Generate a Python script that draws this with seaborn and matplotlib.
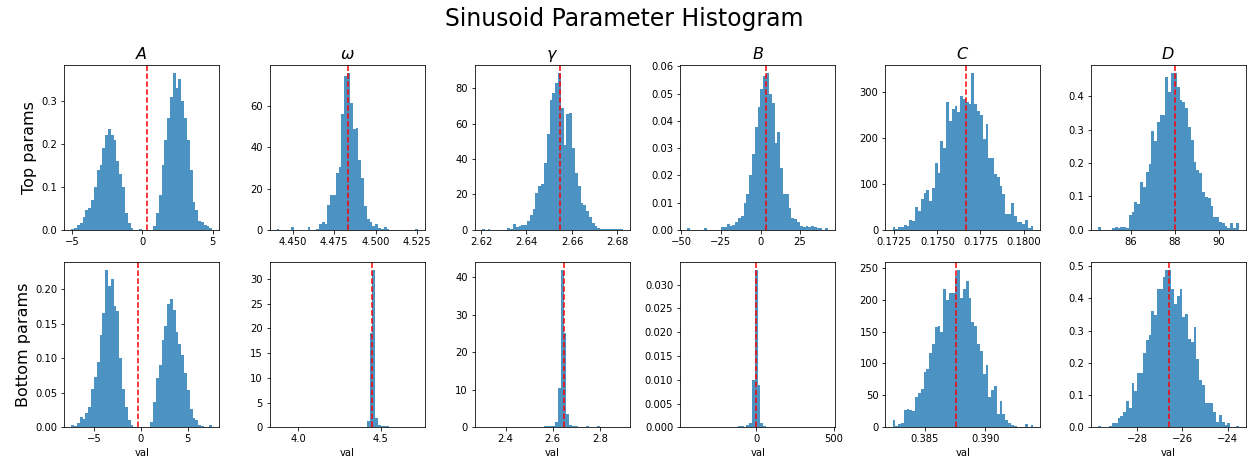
import numpy as np
import pandas as pd
import seaborn as sns
import matplotlib
import matplotlib.pyplot as plt
from matplotlib.ticker import MaxNLocator

matplotlib.use("Agg")

#%% labels
param_titles = [r"$A$", r"$\omega$", r"$\gamma$", r"$B$", r"$C$", r"$D$"]
row_labels = ["Top params", "Bottom params"]
n_bins = 50

#%% x tick labels shown in the reference
top_xticks = [[-5, 0, 5], [4.450, 4.475, 4.500, 4.525], [2.62, 2.64, 2.66, 2.68],
              [-50, -25, 0, 25], [0.1725, 0.1750, 0.1775, 0.1800], [86, 88, 90]]
bot_xticks = [[-5, 0, 5], [4.0, 4.5], [2.4, 2.6, 2.8],
              [0, 500], [0.385, 0.390], [-28, -26, -24]]

#%% histogram densities (50 bins each, first/last edge, red marker)
A_top_range = [-5.07, 4.98]
A_top = [0.002, 0.005, 0.012, 0.017, 0.03, 0.045, 0.05, 0.07, 0.10, 0.14,
         0.15, 0.19, 0.22, 0.235, 0.22, 0.21, 0.16, 0.13, 0.10, 0.04,
         0.017, 0.005, 0, 0, 0.002, 0, 0, 0, 0, 0.01,
         0.04, 0.08, 0.15, 0.21, 0.26, 0.31, 0.365, 0.33, 0.35, 0.30,
         0.26, 0.21, 0.14, 0.065, 0.045, 0.02, 0.018, 0.012, 0.008, 0.004]
A_top_mark = 0.36

A_bot_range = [-7.47, 7.65]
A_bot = [0.003, 0.002, 0.006, 0.015, 0.012, 0.02, 0.03, 0.055, 0.073, 0.095,
         0.133, 0.165, 0.227, 0.205, 0.215, 0.175, 0.168, 0.10, 0.056, 0.03,
         0.01, 0.004, 0, 0, 0, 0, 0, 0, 0.007, 0.037,
         0.071, 0.09, 0.126, 0.147, 0.178, 0.185, 0.17, 0.138, 0.12, 0.105,
         0.078, 0.054, 0.027, 0.013, 0.01, 0.003, 0.002, 0, 0, 0.003]
A_bot_mark = -0.32

w_top_range = [4.4403, 4.5254]
w_top = [0.6, 0, 0, 0, 0, 1.4, 0, 0, 0, 0,
         0, 1.4, 0, 0, 0.6, 2.7, 4, 3, 12, 17,
         17, 27.5, 30.6, 56, 74.5, 76, 61.6, 49, 49.5, 34,
         25, 11.6, 5.2, 4, 2, 2.6, 1, 0.5, 1.6, 0.5,
         0, 0, 0, 0, 0, 0, 0, 0, 0, 0.6]
w_top_mark = 4.4836

w_bot_range = [3.8695, 4.723]
w_bot = [0.05, 0, 0, 0, 0, 0, 0, 0, 0, 0,
         0, 0, 0, 0, 0, 0, 0, 0, 0, 0,
         0, 0, 0, 0, 0, 0, 0, 0, 0, 0,
         0.15, 0.15, 1.3, 19, 31.7, 1.9, 0.5, 0.2, 0.2, 0.2,
         0, 0, 0, 0, 0, 0, 0, 0, 0, 0.05]
w_bot_mark = 4.45

g_top_range = [2.6204, 2.6824]
g_top = [0.4, 0, 0.4, 0, 0, 0, 0, 0, 0, 1.2,
         0.5, 3.5, 1.8, 2, 2.5, 2.8, 5, 8.5, 12, 21,
         25, 26, 38, 54, 73, 77, 83, 88.6, 69, 48,
         65.5, 66, 46, 32, 24.8, 15, 14, 10.7, 7, 4,
         2.2, 1.3, 0.5, 0.5, 0.5, 0.3, 0.3, 0.3, 0.5, 0.2]
g_top_mark = 2.6547

g_bot_range = [2.300, 2.898]
g_bot = [0.1, 0, 0, 0, 0, 0, 0, 0, 0, 0,
         0, 0, 0, 0, 0, 0, 0, 0, 0.2, 0,
         0, 0, 0.3, 0.35, 0.35, 0.35, 1.3, 10.4, 41.9, 25.2,
         3.5, 0.6, 0.45, 0.25, 0.2, 0, 0, 0.3, 0, 0,
         0, 0.3, 0, 0, 0, 0, 0, 0, 0, 0]
g_bot_mark = 2.65

B_top_range = [-46.3, 42.7]
B_top = [0.0005, 0, 0, 0, 0, 0, 0.0005, 0, 0, 0,
         0, 0, 0.0009, 0.0009, 0.002, 0.0015, 0.0018, 0.0027, 0.0045, 0.0049,
         0.01, 0.0133, 0.02, 0.028, 0.0377, 0.045, 0.0515, 0.0563, 0.0576, 0.050,
         0.0466, 0.032, 0.036, 0.0228, 0.013, 0.013, 0.0079, 0.0045, 0.0039, 0.0027,
         0.0015, 0.001, 0.0015, 0.0009, 0.0015, 0.0009, 0.0005, 0.0005, 0, 0.0005]
B_top_mark = 3.6

B_bot_range = [-444, 463]
B_bot = [0.00003, 0, 0, 0, 0, 0, 0, 0, 0, 0,
         0, 0, 0, 0, 0, 0, 0, 0, 0.0002, 0.0002,
         0, 0.0005, 0.0008, 0.0099, 0.033, 0.0089, 0.001, 0.0002, 0.00015, 0.00015,
         0, 0, 0, 0, 0, 0, 0, 0, 0, 0,
         0, 0, 0, 0, 0, 0, 0, 0, 0, 0.00003]
B_bot_mark = -1

C_top_range = [0.17240, 0.18057]
C_top = [6.5, 1.5, 7, 7, 10, 8, 21, 19, 50, 41,
         68, 81, 86, 63, 90, 145, 124, 193, 177, 278,
         236, 263, 269, 256, 290, 285, 278, 273, 341, 273,
         258, 249, 197, 229, 155, 155, 121, 114, 96, 77,
         34, 34, 58, 29, 18, 16, 12, 21, 5, 9]
C_top_mark = 0.17668

C_bot_range = [0.38231, 0.39400]
C_bot = [11, 2.5, 4.6, 7, 27, 28, 27, 25, 47, 54,
         60, 86, 91, 117, 131, 157, 159, 150, 217, 199,
         210, 210, 237, 246, 202, 217, 229, 202, 165, 159,
         131, 119, 84, 97, 47, 58, 64, 21, 41, 21,
         12, 6, 3.6, 2, 1, 0, 1, 5, 0.5, 3]
C_bot_mark = 0.38758

D_top_range = [84.49, 90.92]
D_top = [0.007, 0, 0, 0, 0, 0.005, 0.009, 0.005, 0.009, 0.009,
         0.006, 0.044, 0.053, 0.084, 0.076, 0.142, 0.128, 0.172, 0.196, 0.296,
         0.267, 0.322, 0.343, 0.343, 0.459, 0.412, 0.47, 0.47, 0.428, 0.39,
         0.383, 0.364, 0.309, 0.27, 0.202, 0.178, 0.17, 0.112, 0.099, 0.094,
         0.07, 0.039, 0.037, 0.023, 0.019, 0.01, 0.005, 0.021, 0.005, 0.02]
D_top_mark = 88.0

D_bot_range = [-29.727, -23.513]
D_bot = [0.005, 0, 0, 0, 0.003, 0.014, 0.014, 0.028, 0.035, 0.048,
         0.082, 0.061, 0.136, 0.113, 0.167, 0.17, 0.229, 0.272, 0.286, 0.36,
         0.347, 0.43, 0.43, 0.466, 0.487, 0.487, 0.43, 0.384, 0.408, 0.43,
         0.343, 0.35, 0.275, 0.266, 0.31, 0.213, 0.146, 0.13, 0.074, 0.074,
         0.074, 0.048, 0.018, 0.038, 0.018, 0.007, 0.014, 0.002, 0, 0.005]
D_bot_mark = -26.57

rows = [
    ([A_top_range, w_top_range, g_top_range, B_top_range, C_top_range, D_top_range],
     [A_top, w_top, g_top, B_top, C_top, D_top],
     [A_top_mark, w_top_mark, g_top_mark, B_top_mark, C_top_mark, D_top_mark],
     top_xticks),
    ([A_bot_range, w_bot_range, g_bot_range, B_bot_range, C_bot_range, D_bot_range],
     [A_bot, w_bot, g_bot, B_bot, C_bot, D_bot],
     [A_bot_mark, w_bot_mark, g_bot_mark, B_bot_mark, C_bot_mark, D_bot_mark],
     bot_xticks),
]

#%% plot (dpi 72 so the default 10pt ticks come out small, like the reference)
fig, axes = plt.subplots(2, 6, figsize=(1249 / 72, 462 / 72), dpi=72)
fig.subplots_adjust(left=0.0515, right=0.9974, top=0.8593, bottom=0.0751,
                    wspace=0.3245, hspace=0.198)

for r, (ranges, heights, marks, xticks) in enumerate(rows):
    for c in range(6):
        ax = axes[r, c]
        edges = np.linspace(ranges[c][0], ranges[c][1], n_bins + 1)
        df = pd.DataFrame({"val": (edges[:-1] + edges[1:]) / 2,
                           "density": heights[c]})
        sns.histplot(data=df, x="val", weights="density", bins=edges.tolist(),
                     stat="count", color="C0", alpha=0.8, linewidth=0, ax=ax)
        ax.axvline(marks[c], color="r", ls="--")

        xlim = ax.get_xlim()
        ax.set_xticks(xticks[c])
        ax.set_xlim(xlim)
        ax.yaxis.set_major_locator(MaxNLocator(7, steps=[1, 2, 2.5, 5, 10]))

        if r == 0:
            ax.set_title(param_titles[c], fontsize=16)
            ax.set_xlabel("")
        else:
            ax.set_xlabel("val")
        ax.set_ylabel(row_labels[r] if c == 0 else "", fontsize=16)

fig.suptitle("Sinusoid Parameter Histogram", fontsize=23.5, y=0.985)
fig.savefig("out.png", dpi=72)
